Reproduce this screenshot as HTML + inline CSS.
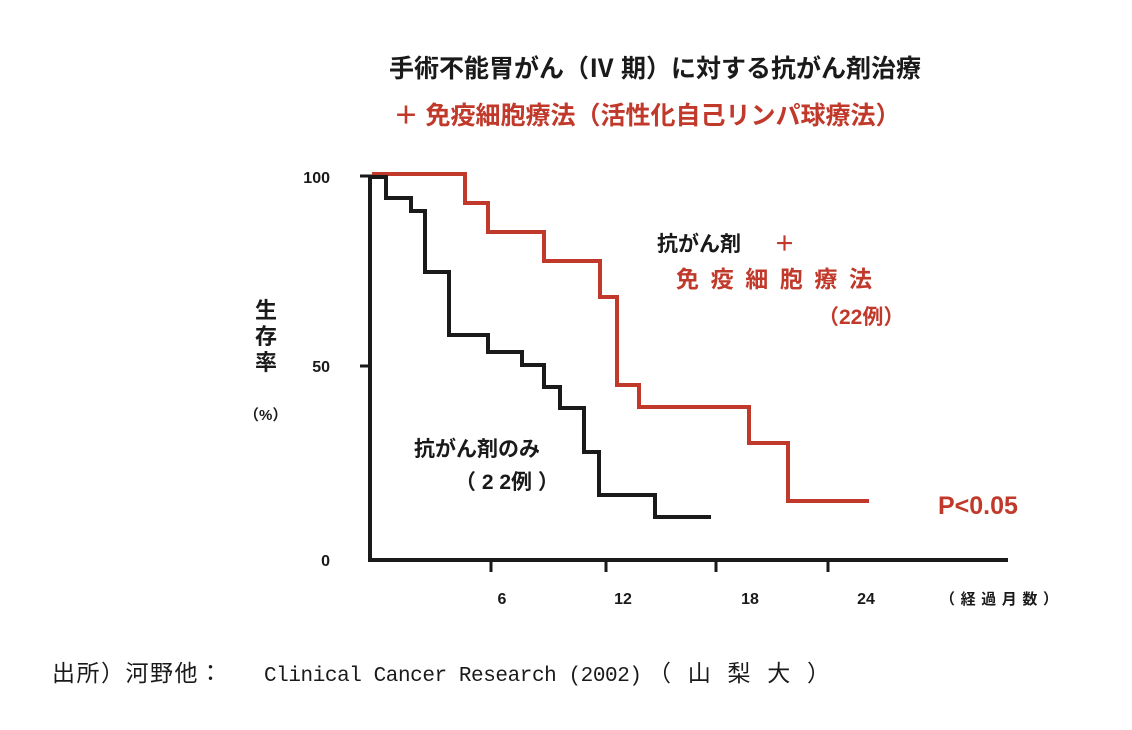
<!DOCTYPE html>
<html><head><meta charset="utf-8"><style>
body{margin:0;background:#fff;}
svg text{font-family:"Liberation Sans","Noto Sans CJK JP",sans-serif;}
svg text.mono{font-family:"Liberation Mono","Noto Sans CJK JP",monospace;}
</style></head><body>
<svg width="1132" height="725" viewBox="0 0 1132 725" xmlns="http://www.w3.org/2000/svg">
<rect width="1132" height="725" fill="#fff"/>
<text x="655" y="77" font-size="25" text-anchor="middle" fill="#1a1a1a" font-weight="bold">手術不能胃がん（Ⅳ 期）に対する抗がん剤治療</text>
<text x="647" y="124" font-size="25" text-anchor="middle" fill="#c0392b" font-weight="bold">＋ 免疫細胞療法（活性化自己リンパ球療法）</text>
<path d="M370,176 V560 H1008" fill="none" stroke="#1a1a1a" stroke-width="4"/>
<path d="M360,176 H372 M360,366 H372" stroke="#1a1a1a" stroke-width="3"/>
<path d="M491,560 V572 M606,560 V572 M716,560 V572 M828,560 V572" stroke="#1a1a1a" stroke-width="3"/>
<g font-size="16" font-weight="bold" fill="#1a1a1a">
<text x="330" y="183" text-anchor="end">100</text>
<text x="330" y="372" text-anchor="end">50</text>
<text x="330" y="566" text-anchor="end">0</text>
<text x="502" y="604" text-anchor="middle">6</text>
<text x="623" y="604" text-anchor="middle">12</text>
<text x="750" y="604" text-anchor="middle">18</text>
<text x="866" y="604" text-anchor="middle">24</text>
<text x="940" y="604" font-size="15" textLength="118">（経過月数）</text>
<text x="255" y="318" font-size="22">生</text>
<text x="255" y="344" font-size="22">存</text>
<text x="255" y="370" font-size="22">率</text>
<text x="244" y="420" font-size="15">（%）</text>
</g>
<path d="M372,174 H465 V203 H488 V232 H544 V261 H600 V297 H617 V385 H639 V407 H749 V443 H788 V501 H869" fill="none" stroke="#c0392b" stroke-width="4"/>
<path d="M372,177 H386 V198 H411 V211 H425 V272 H449 V335 H488 V352 H522 V365 H544 V387 H560 V408 H584 V452 H599 V495 H655 V517 H711" fill="none" stroke="#1a1a1a" stroke-width="4"/>
<g font-weight="bold" font-size="21">
<text x="657" y="251" fill="#1a1a1a">抗がん剤</text>
<text x="774" y="251" fill="#c0392b">＋</text>
<text x="676" y="287" fill="#c0392b" font-size="23" textLength="196">免疫細胞療法</text>
<text x="818" y="324" fill="#c0392b">（22例）</text>
<text x="414" y="456" fill="#1a1a1a">抗がん剤のみ</text>
<text x="455" y="489" fill="#1a1a1a">（ 2 2例 ）</text>
<text x="938" y="514" fill="#c0392b" font-size="25">P&lt;0.05</text>
</g>
<text x="52" y="681" fill="#1a1a1a" font-size="23" textLength="170">出所）河野他：</text>
<text class="mono" x="264" y="681" fill="#1a1a1a" font-size="21" textLength="378">Clinical Cancer Research (2002)</text>
<text x="648" y="681" fill="#1a1a1a" font-size="23" textLength="182">（山梨大）</text>
</svg>
</body></html>
